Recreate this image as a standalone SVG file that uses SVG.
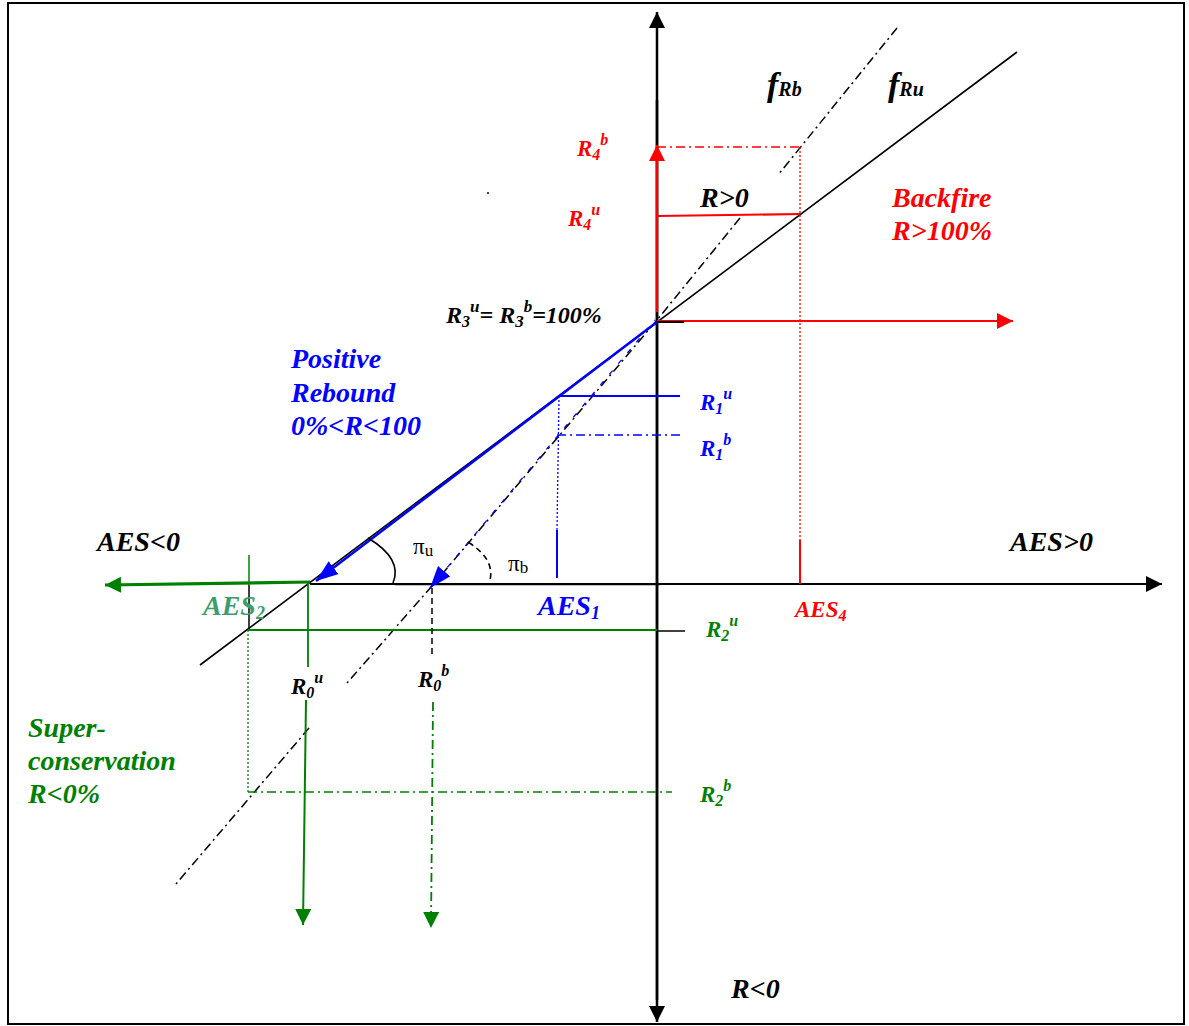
<svg xmlns="http://www.w3.org/2000/svg" width="1189" height="1026" viewBox="0 0 1189 1026">
<style>
.t{font-family:"Liberation Serif","Times New Roman",serif;font-weight:bold;font-style:italic}
.big{font-size:28px}
.mid{font-size:23px}
.sm{font-size:16px}
.sb{font-size:18px}
.pi{font-family:"Liberation Serif","Times New Roman",serif;font-size:23px}
.pis{font-size:17px}
.k{fill:#000}
.r{fill:#ff0000}
.b{fill:#0000ff}
.g{fill:#008000}
.g2{fill:#3c9e6e}
.ln{fill:none}
.dd{stroke-dasharray:9 4 2 4}
.dot{stroke-dasharray:2 2}
.dash{stroke-dasharray:6 4}
</style>
<defs>
<marker id="ak" viewBox="0 0 16 16" refX="16" refY="8" markerWidth="16" markerHeight="16" markerUnits="userSpaceOnUse" orient="auto"><path d="M0,0 L16,8 L0,16 z" fill="#000"/></marker>
<marker id="ar" viewBox="0 0 16 16" refX="16" refY="8" markerWidth="16" markerHeight="16" markerUnits="userSpaceOnUse" orient="auto"><path d="M0,0 L16,8 L0,16 z" fill="#ff0000"/></marker>
<marker id="ab" viewBox="0 0 22 16" refX="22" refY="8" markerWidth="22" markerHeight="16" markerUnits="userSpaceOnUse" orient="auto"><path d="M0,0 L22,8 L0,16 z" fill="#0000ff"/></marker>
<marker id="ag" viewBox="0 0 16 16" refX="16" refY="8" markerWidth="16" markerHeight="16" markerUnits="userSpaceOnUse" orient="auto"><path d="M0,0 L16,8 L0,16 z" fill="#008000"/></marker>
</defs>
<rect x="8" y="3" width="1176" height="1021" fill="#fff" stroke="#000" stroke-width="2"/>
<g id="connectors" class="ln">
  <line x1="657" y1="1000" x2="657" y2="12" stroke="#000" stroke-width="2.5" marker-end="url(#ak)"/>
  <line x1="657" y1="100" x2="657" y2="1022" stroke="#000" stroke-width="2.5" marker-end="url(#ak)"/>
  <line x1="310" y1="584" x2="1162" y2="584" stroke="#000" stroke-width="2" marker-end="url(#ak)"/>
  <line x1="395" y1="584.5" x2="660" y2="584.5" stroke="#000" stroke-width="1.5"/>
  <line x1="200" y1="665" x2="1017" y2="52" stroke="#000" stroke-width="1.6"/>
  <line x1="897" y1="28" x2="778" y2="175" stroke="#000" stroke-width="1.5" class="dd"/>
  <polyline points="740,218 657,320 432,586" stroke="#000" stroke-width="1.5" class="dd"/>
  <line x1="432" y1="586" x2="347" y2="683" stroke="#000" stroke-width="1.5" class="dd"/>
  <line x1="309" y1="728" x2="176" y2="884" stroke="#000" stroke-width="1.5" class="dd"/>
  <line x1="657" y1="312" x2="657" y2="145" stroke="#ff0000" stroke-width="2.2" marker-end="url(#ar)"/>
  <line x1="657" y1="216" x2="800" y2="214" stroke="#ff0000" stroke-width="2.2"/>
  <line x1="657" y1="147" x2="800" y2="147" stroke="#ff0000" stroke-width="1.5" class="dd"/>
  <line x1="800" y1="147" x2="800" y2="540" stroke="#ff0000" stroke-width="1.3" class="dot"/>
  <line x1="800" y1="540" x2="800" y2="584" stroke="#ff0000" stroke-width="2"/>
  <line x1="657" y1="321" x2="1013" y2="321" stroke="#ff0000" stroke-width="2.2" marker-end="url(#ar)"/>
  <line x1="657" y1="322" x2="684" y2="322" stroke="#000" stroke-width="2"/>
  <line x1="657" y1="322" x2="316" y2="581" stroke="#0000ff" stroke-width="2.5" marker-end="url(#ab)"/>
  <line x1="655" y1="320" x2="430" y2="588" stroke="#0000ff" stroke-width="1.3" stroke-dasharray="5 9" stroke-dashoffset="4" marker-end="url(#ab)"/>
  <line x1="560" y1="396" x2="680" y2="396" stroke="#0000ff" stroke-width="1.8"/>
  <line x1="557" y1="435" x2="680" y2="435" stroke="#0000ff" stroke-width="1.6" class="dd"/>
  <line x1="559" y1="396" x2="557" y2="530" stroke="#0000ff" stroke-width="1.3" class="dot"/>
  <line x1="557" y1="530" x2="557" y2="578" stroke="#0000ff" stroke-width="2"/>
  <line x1="310" y1="582" x2="105" y2="585" stroke="#008000" stroke-width="3.2" marker-end="url(#ag)"/>
  <line x1="249" y1="555" x2="249" y2="585" stroke="#008000" stroke-width="1.5"/>
  <line x1="249" y1="585" x2="249" y2="630" stroke="#000" stroke-width="1.5"/>
  <line x1="248" y1="630" x2="248" y2="792" stroke="#008000" stroke-width="1.3" class="dot"/>
  <line x1="248" y1="630" x2="657" y2="630" stroke="#008000" stroke-width="2"/>
  <line x1="657" y1="631" x2="685" y2="631" stroke="#000" stroke-width="1.5"/>
  <line x1="308" y1="582" x2="308" y2="667" stroke="#008000" stroke-width="1.8"/>
  <line x1="306" y1="700" x2="303" y2="925" stroke="#008000" stroke-width="2" marker-end="url(#ag)"/>
  <line x1="248" y1="792" x2="672" y2="792" stroke="#008000" stroke-width="1.5" class="dd"/>
  <line x1="432" y1="588" x2="432" y2="657" stroke="#000" stroke-width="1.5" class="dash"/>
  <line x1="433" y1="702" x2="431" y2="928" stroke="#008000" stroke-width="1.8" class="dd" marker-end="url(#ag)"/>
  <path d="M368,538 Q403,559 393,583" stroke="#000" stroke-width="1.6"/>
  <path d="M468,542 Q495,559 490,580" stroke="#000" stroke-width="1.6" class="dash"/>
</g>
<circle cx="488" cy="193" r="1" fill="#000"/>
<g id="labels">
  <text class="t k" x="767" y="96"><tspan font-size="34">f</tspan><tspan font-size="20">Rb</tspan></text>
  <text class="t k" x="888" y="96"><tspan font-size="34">f</tspan><tspan font-size="20">Ru</tspan></text>
  <text class="t r mid" x="577" y="156">R<tspan class="sm" dy="4">4</tspan><tspan class="sm" dy="-15">b</tspan></text>
  <text class="t r mid" x="568" y="226">R<tspan class="sm" dy="4">4</tspan><tspan class="sm" dy="-15">u</tspan></text>
  <text class="t k big" x="700" y="207">R&gt;0</text>
  <text class="t r big" x="892" y="207">Backfire</text>
  <text class="t r big" x="892" y="240">R&gt;100%</text>
  <text class="t k" font-size="24" x="446" y="323">R<tspan class="sm" font-size="17" dy="4">3</tspan><tspan font-size="17" dy="-15">u</tspan><tspan dy="11">= R</tspan><tspan font-size="17" dy="4">3</tspan><tspan font-size="17" dy="-15">b</tspan><tspan dy="11">=100%</tspan></text>
  <text class="t b big" x="291" y="368">Positive</text>
  <text class="t b big" x="291" y="402">Rebound</text>
  <text class="t b big" x="291" y="435">0%&lt;R&lt;100</text>
  <text class="t b mid" x="700" y="410">R<tspan class="sm" dy="4">1</tspan><tspan class="sm" dy="-15">u</tspan></text>
  <text class="t b mid" x="700" y="456">R<tspan class="sm" dy="4">1</tspan><tspan class="sm" dy="-15">b</tspan></text>
  <text class="t k big" x="97" y="551">AES&lt;0</text>
  <text class="t k big" x="1010" y="551">AES&gt;0</text>
  <text class="pi k" x="413" y="554">π<tspan class="pis" dy="2">u</tspan></text>
  <text class="pi k" x="508" y="571">π<tspan class="pis" dy="2">b</tspan></text>
  <text class="t g2 big" x="203" y="615">AES<tspan class="sb" dy="4">2</tspan></text>
  <text class="t b big" x="538" y="615">AES<tspan class="sb" dy="4">1</tspan></text>
  <text class="t r mid" x="795" y="617">AES<tspan class="sm" dy="4">4</tspan></text>
  <text class="t g mid" x="706" y="637">R<tspan class="sm" dy="4">2</tspan><tspan class="sm" dy="-15">u</tspan></text>
  <text class="t k mid" x="291" y="694">R<tspan class="sm" dy="4">0</tspan><tspan class="sm" dy="-15">u</tspan></text>
  <text class="t k mid" x="418" y="687">R<tspan class="sm" dy="4">0</tspan><tspan class="sm" dy="-15">b</tspan></text>
  <text class="t g big" x="28" y="737">Super-</text>
  <text class="t g big" x="28" y="770">conservation</text>
  <text class="t g big" x="28" y="803">R&lt;0%</text>
  <text class="t g mid" x="700" y="802">R<tspan class="sm" dy="4">2</tspan><tspan class="sm" dy="-15">b</tspan></text>
  <text class="t k big" x="731" y="998">R&lt;0</text>
</g>
</svg>
